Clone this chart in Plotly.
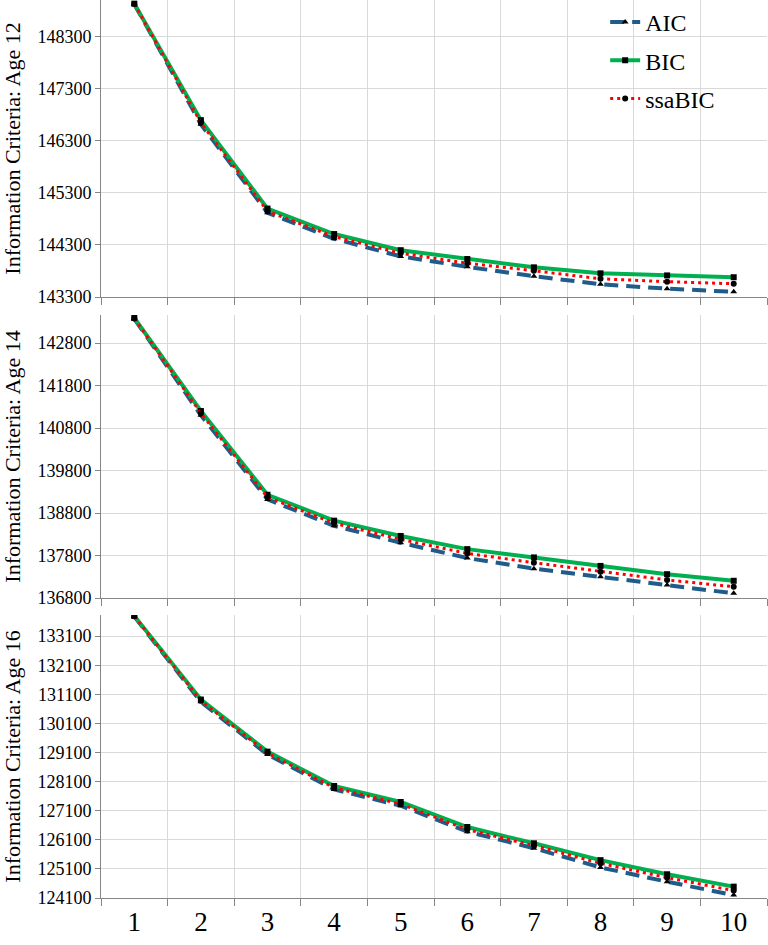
import plotly.graph_objects as go
from plotly.subplots import make_subplots

classes = [1, 2, 3, 4, 5, 6, 7, 8, 9, 10]
x_labels = ["1", "2", "3", "4", "5", "6", "7", "8", "9", "10"]

age12_aic = [148930, 146620, 144920, 144420, 144080, 143880, 143700, 143545, 143460, 143400]
age12_bic = [148940, 146700, 145000, 144510, 144200, 144030, 143870, 143755, 143715, 143680]
age12_ssa = [148935, 146650, 144950, 144460, 144140, 143950, 143805, 143650, 143595, 143555]

age14_aic = [143370, 141100, 139120, 138500, 138100, 137740, 137490, 137300, 137105, 136910]
age14_bic = [143390, 141200, 139230, 138620, 138260, 137950, 137755, 137555, 137360, 137205]
age14_ssa = [143380, 141150, 139170, 138560, 138180, 137850, 137630, 137420, 137225, 137065]

age16_aic = [133770, 130840, 129030, 127830, 127270, 126380, 125810, 125150, 124660, 124200]
age16_bic = [133790, 130920, 129130, 127950, 127400, 126540, 125980, 125400, 124915, 124490]
age16_ssa = [133780, 130880, 129080, 127890, 127330, 126450, 125900, 125290, 124800, 124355]

panels = [
    ("Information Criteria: Age 12", age12_aic, age12_bic, age12_ssa, [143300, 149010], 143300, 148300),
    ("Information Criteria: Age 14", age14_aic, age14_bic, age14_ssa, [136800, 143460], 136800, 142800),
    ("Information Criteria: Age 16", age16_aic, age16_bic, age16_ssa, [124100, 133825], 124100, 133100),
]

FONT = "Liberation Serif"
H, W = 945, 768
plot_h = 898
domains = [
    [(plot_h - 297) / plot_h, 1.0],
    [(plot_h - 598) / plot_h, (plot_h - 315) / plot_h],
    [0.0, (plot_h - 615) / plot_h],
]

fig = make_subplots(rows=3, cols=1, shared_xaxes=False, vertical_spacing=0.02)

for i, (title, aic, bic, ssa, yr, y0, y1) in enumerate(panels):
    row = i + 1
    show = i == 0
    fig.add_trace(go.Scatter(
        x=classes, y=aic, name="AIC", mode="lines+markers", showlegend=show,
        legendgroup="aic",
        line=dict(color="#1F5C8A", width=4, dash="14px,8px"),
        marker=dict(symbol="triangle-up", size=6, color="black"),
    ), row=row, col=1)
    fig.add_trace(go.Scatter(
        x=classes, y=bic, name="BIC", mode="lines+markers", showlegend=show,
        legendgroup="bic",
        line=dict(color="#00B050", width=4),
        marker=dict(symbol="square", size=6, color="black"),
    ), row=row, col=1)
    fig.add_trace(go.Scatter(
        x=classes, y=ssa, name="ssaBIC", mode="lines+markers", showlegend=show,
        legendgroup="ssa",
        line=dict(color="#FF0000", width=3, dash="3px,4px"),
        marker=dict(symbol="circle", size=6, color="black"),
    ), row=row, col=1)

    tickvals = list(range(y0, y1 + 1, 1000))
    fig.update_yaxes(
        row=row, col=1, domain=domains[i], range=yr,
        tickvals=tickvals, ticktext=[str(v) for v in tickvals],
        showgrid=True, gridcolor="#D9D9D9", gridwidth=1,
        showline=True, linecolor="#868686", linewidth=1,
        ticks="outside", ticklen=5, tickcolor="#868686",
        tickfont=dict(family=FONT, size=18, color="black"),
        title=dict(text=title, font=dict(family=FONT, size=22, color="black"), standoff=10),
        zeroline=False,
    )
    fig.update_xaxes(
        row=row, col=1, range=[0.5, 10.5],
        tickvals=classes, ticktext=x_labels if row == 3 else [""] * 10,
        showticklabels=(row == 3),
        ticks="", showgrid=False,
        minor=dict(tickvals=[k + 0.5 for k in range(0, 11)], showgrid=True,
                   gridcolor="#D9D9D9", gridwidth=1, ticks="outside", ticklen=7,
                   tickcolor="#868686"),
        showline=True, linecolor="#868686", linewidth=1,
        tickfont=dict(family=FONT, size=27, color="black"),
        zeroline=False,
    )

fig.update_layout(
    width=W, height=H,
    margin=dict(l=101, r=1, t=0, b=H - plot_h),
    paper_bgcolor="white", plot_bgcolor="white",
    font=dict(family=FONT, color="black"),
    legend=dict(
        x=0.757, y=1.0, xanchor="left", yanchor="top",
        font=dict(family=FONT, size=24, color="black"),
        bgcolor="rgba(0,0,0,0)", traceorder="grouped", tracegroupgap=4,
        itemwidth=30,
    ),
)

fig.write_html("out.html")
